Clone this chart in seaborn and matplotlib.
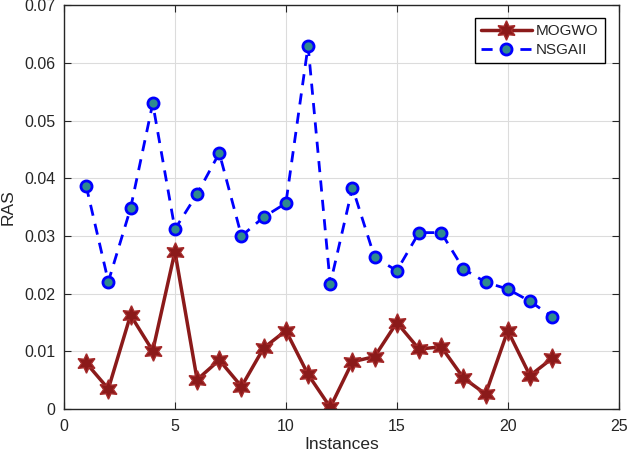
import matplotlib
matplotlib.use("Agg")
import matplotlib.pyplot as plt
import seaborn as sns
import pandas as pd

# =====================================================
# Data
# =====================================================

instances = list(range(1, 23))

mogwo = [0.0080, 0.0035, 0.0163, 0.0101, 0.0273, 0.0051, 0.0085, 0.0039,
         0.0106, 0.0136, 0.0060, 0.0003, 0.0082, 0.0091, 0.0150, 0.0104,
         0.0108, 0.0054, 0.0026, 0.0136, 0.0058, 0.0088]

nsgaii = [0.0387, 0.0221, 0.0348, 0.0530, 0.0312, 0.0373, 0.0444, 0.0300,
          0.0333, 0.0357, 0.0630, 0.0217, 0.0384, 0.0263, 0.0240, 0.0306,
          0.0306, 0.0243, 0.0220, 0.0208, 0.0187, 0.0160]

x_ticks = [0, 5, 10, 15, 20, 25]
y_ticks = [0, 0.01, 0.02, 0.03, 0.04, 0.05, 0.06, 0.07]
y_tick_labels = ["0", "0.01", "0.02", "0.03", "0.04", "0.05", "0.06", "0.07"]

df = pd.DataFrame({"Instances": instances, "MOGWO": mogwo, "NSGAII": nsgaii})

# =====================================================
# Style
# =====================================================

sns.set_style("whitegrid")
plt.rcParams["font.family"] = ["Liberation Sans", "DejaVu Sans"]

fig = plt.figure(figsize=(6.29, 4.54), dpi=100)
ax = fig.add_axes([0.1017, 0.099, 0.882, 0.889])

# =====================================================
# Lines
# =====================================================

sns.lineplot(
    data=df, x="Instances", y="MOGWO", ax=ax,
    color="#8B1A1A", linewidth=2.5,
    marker=(6, 1, 0), markersize=14,
    markerfacecolor="#8B1A1A", markeredgecolor="#A52A2A",
    markeredgewidth=1.0, label="MOGWO"
)

sns.lineplot(
    data=df, x="Instances", y="NSGAII", ax=ax,
    color="#0000FF", linewidth=2.0, linestyle=(0, (4, 3)),
    marker="o", markersize=8,
    markerfacecolor="#2F8A8F", markeredgecolor="#0000FF",
    markeredgewidth=2.0, label="NSGAII"
)

# =====================================================
# Axes
# =====================================================

ax.set_xlim(0, 25)
ax.set_ylim(0, 0.07)
ax.set_xticks(x_ticks)
ax.set_yticks(y_ticks)
ax.set_yticklabels(y_tick_labels)
ax.set_xlabel("Instances", fontsize=12.5, labelpad=2)
ax.set_ylabel("RAS", fontsize=12.5, labelpad=6)
ax.tick_params(labelsize=11.5, direction="in", length=5, color="#262626",
               top=True, right=True, bottom=True, left=True)
ax.tick_params(axis="x", pad=7)
ax.tick_params(axis="y", pad=6)

ax.grid(True, color="#DCDCDC", linewidth=0.8)
for spine in ax.spines.values():
    spine.set_edgecolor("#262626")
    spine.set_linewidth(1.0)

leg = ax.legend(loc="upper right", fontsize=11, fancybox=False,
                framealpha=1, edgecolor="black", handlelength=3.3,
                labelspacing=0.3, borderpad=0.4, handletextpad=0.3,
                bbox_to_anchor=(0.975, 0.968), borderaxespad=0.0)
leg.get_frame().set_linewidth(1.0)

fig.savefig("out.png", dpi=100)
